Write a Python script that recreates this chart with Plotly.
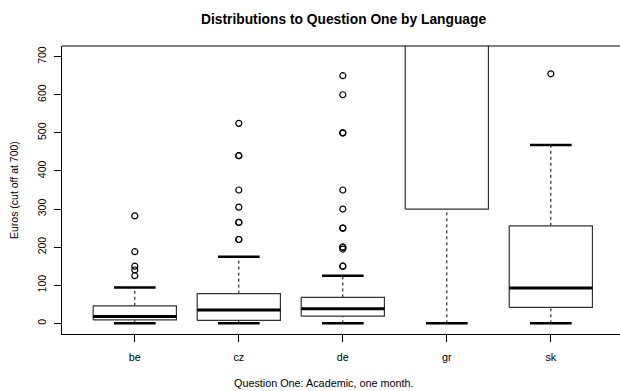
import plotly.graph_objects as go

# Survey answers summarised per language (Euros, values above 700 are cut off)
languages = ["be", "cz", "de", "gr", "sk"]
lower_whisker = [0, 0, 0, 0, 0]
q1 = [9, 8, 19, 300, 42]
median = [18, 35, 38, 1000, 93]
q3 = [46, 78, 68, 1500, 256]
upper_whisker = [94, 175, 125, 2000, 468]
outliers = [
    [282, 188, 150, 140, 125],
    [525, 440, 440, 350, 305, 265, 265, 220, 220],
    [650, 600, 500, 500, 350, 300, 250, 250, 200, 200, 195, 150, 150],
    [],
    [655],
]
y_ticks = [0, 100, 200, 300, 400, 500, 600, 700]

BOX_HALF = 0.4      # boxwex 0.8
STAPLE_HALF = 0.2   # staple is half the box width
FONT = "Liberation Sans, Arial, Helvetica, sans-serif"

fig = go.Figure()

for i, lang in enumerate(languages):
    x = i + 1
    # dashed whiskers
    for a, b in ((lower_whisker[i], q1[i]), (q3[i], upper_whisker[i])):
        fig.add_trace(go.Scatter(
            x=[x, x], y=[a, b], mode="lines",
            line=dict(color="black", width=1, dash="3px,3px"),
            hoverinfo="skip", showlegend=False))
    # staples
    for v in (lower_whisker[i], upper_whisker[i]):
        fig.add_trace(go.Scatter(
            x=[x - STAPLE_HALF, x + STAPLE_HALF], y=[v, v], mode="lines",
            line=dict(color="black", width=2.5),
            hoverinfo="skip", showlegend=False))
    # box
    fig.add_trace(go.Scatter(
        x=[x - BOX_HALF, x + BOX_HALF, x + BOX_HALF, x - BOX_HALF, x - BOX_HALF],
        y=[q1[i], q1[i], q3[i], q3[i], q1[i]],
        mode="lines", fill="toself", fillcolor="white",
        line=dict(color="#333333", width=1.2),
        hoverinfo="skip", showlegend=False))
    # median
    fig.add_trace(go.Scatter(
        x=[x - BOX_HALF, x + BOX_HALF], y=[median[i], median[i]], mode="lines",
        line=dict(color="black", width=3),
        hoverinfo="skip", showlegend=False))
    # outliers
    if outliers[i]:
        fig.add_trace(go.Scatter(
            x=[x] * len(outliers[i]), y=outliers[i], mode="markers",
            marker=dict(symbol="circle-open", size=6, color="black",
                        line=dict(width=1.2, color="black")),
            hoverinfo="skip", showlegend=False))

fig.update_layout(
    width=620, height=391,
    margin=dict(l=62, r=0, t=46, b=57),
    paper_bgcolor="white", plot_bgcolor="white",
    font=dict(family=FONT, size=10, color="black"),
    xaxis=dict(
        range=[0.3, 5.665], tickvals=[1, 2, 3, 4, 5], ticktext=languages,
        showgrid=False, zeroline=False, showline=True, linecolor="black",
        linewidth=1, ticks="outside", ticklen=7, tickcolor="black",
        tickfont=dict(size=10.8, family=FONT), ticklabelstandoff=6,
    ),
    yaxis=dict(
        range=[-28, 728], tickvals=y_ticks, tickangle=-90,
        showgrid=False, zeroline=False, showline=True, linecolor="black",
        linewidth=1, ticks="outside", ticklen=7, tickcolor="black",
        tickfont=dict(size=10.5, family=FONT), ticklabelstandoff=4,
    ),
    shapes=[dict(type="line", xref="paper", yref="paper", x0=0, x1=1,
                 y0=1, y1=1, line=dict(color="black", width=1))],
    annotations=[
        dict(text="<b>Distributions to Question One by Language</b>",
             xref="paper", yref="paper", x=(343 - 62) / 558, y=1,
             yshift=27, showarrow=False, xanchor="center", yanchor="middle",
             font=dict(size=13.8, family=FONT)),
        dict(text="Question One: Academic, one month.",
             xref="paper", yref="paper", x=(323 - 62) / 558, y=0,
             yshift=-49, showarrow=False, xanchor="center", yanchor="middle",
             font=dict(size=10.8, family=FONT)),
        dict(text="Euros (cut off at 700)", textangle=-90,
             xref="paper", yref="paper", x=0, xshift=-48, y=0.5,
             showarrow=False, xanchor="center", yanchor="middle",
             font=dict(size=10.5, family=FONT)),
    ],
)

fig.write_html("out.html")
